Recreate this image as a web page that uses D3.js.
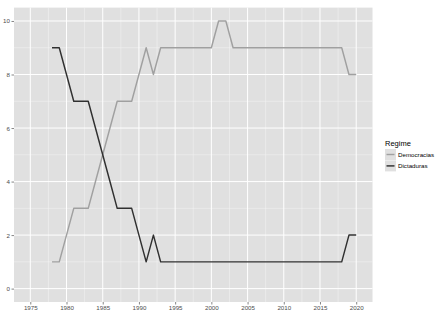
<!DOCTYPE html>
<html>
<head>
<meta charset="utf-8">
<script src="https://cdn.jsdelivr.net/npm/d3@7"></script>
<style>
  body { margin: 0; background: #fff; }
  svg { display: block; font-family: "Liberation Sans", Arial, sans-serif; }
</style>
</head>
<body>
<svg id="chart" width="441" height="318"></svg>
<script>
// data
var years = d3.range(1978, 2021);
var democracias = [1, 1, 2, 3, 3, 3, 4, 5, 6, 7, 7, 7, 8, 9, 8, 9, 9, 9, 9, 9, 9, 9, 9,
    10, 10, 9, 9, 9, 9, 9, 9, 9, 9, 9, 9, 9, 9, 9, 9, 9, 9, 8, 8];
var dictaduras = [9, 9, 8, 7, 7, 7, 6, 5, 4, 3, 3, 3, 2, 1, 2, 1, 1, 1, 1, 1, 1, 1, 1,
    1, 1, 1, 1, 1, 1, 1, 1, 1, 1, 1, 1, 1, 1, 1, 1, 1, 1, 2, 2];
var seriesNames = ['Democracias', 'Dictaduras'];
var xTicks = [1975, 1980, 1985, 1990, 1995, 2000, 2005, 2010, 2015, 2020];
var yTicks = [0, 2, 4, 6, 8, 10];

var series = [
    { name: seriesNames[0], values: democracias, color: '#a0a0a0' },
    { name: seriesNames[1], values: dictaduras, color: '#303030' }
];

var svg = d3.select('#chart');
var panel = { left: 14, top: 7.6, right: 372.5, bottom: 302 };
var panelFill = '#e0e0e0';

/* ggplot-like expansion: 5% on x, 0.5 units on y */
var x = d3.scaleLinear().domain([1972.75, 2022.25]).range([panel.left, panel.right]);
var y = d3.scaleLinear().domain([-0.5, 10.5]).range([panel.bottom, panel.top]);

svg.append('rect')
    .attr('x', panel.left).attr('y', panel.top)
    .attr('width', panel.right - panel.left)
    .attr('height', panel.bottom - panel.top)
    .attr('fill', panelFill);

var grid = svg.append('g');

// minor grid
grid.selectAll('.xminor')
    .data(xTicks.map(function(t) { return t + 2.5; }).filter(function(t) { return t < 2022; }))
    .enter().append('line')
    .attr('x1', function(d) { return x(d); }).attr('x2', function(d) { return x(d); })
    .attr('y1', panel.top).attr('y2', panel.bottom)
    .attr('stroke', '#f4f4f4').attr('stroke-width', 0.5);
grid.selectAll('.yminor')
    .data([1, 3, 5, 7, 9])
    .enter().append('line')
    .attr('y1', function(d) { return y(d); }).attr('y2', function(d) { return y(d); })
    .attr('x1', panel.left).attr('x2', panel.right)
    .attr('stroke', '#f4f4f4').attr('stroke-width', 0.5);

// major grid
grid.selectAll('.xmajor')
    .data(xTicks)
    .enter().append('line')
    .attr('x1', function(d) { return x(d); }).attr('x2', function(d) { return x(d); })
    .attr('y1', panel.top).attr('y2', panel.bottom)
    .attr('stroke', '#fff').attr('stroke-width', 1);
grid.selectAll('.ymajor')
    .data(yTicks)
    .enter().append('line')
    .attr('y1', function(d) { return y(d); }).attr('y2', function(d) { return y(d); })
    .attr('x1', panel.left).attr('x2', panel.right)
    .attr('stroke', '#fff').attr('stroke-width', 1);

// axes
var xAxis = svg.append('g')
    .attr('transform', 'translate(0,' + panel.bottom + ')')
    .call(d3.axisBottom(x).tickValues(xTicks).tickFormat(d3.format('d')).tickSize(2.5).tickPadding(1.5));
var yAxis = svg.append('g')
    .attr('transform', 'translate(' + panel.left + ',0)')
    .call(d3.axisLeft(y).tickValues(yTicks).tickSize(2.5).tickPadding(1.5));

[xAxis, yAxis].forEach(function(ax) {
    ax.select('.domain').remove();
    ax.selectAll('line').attr('stroke', '#333').attr('stroke-width', 0.6);
    ax.selectAll('text')
        .attr('fill', '#4d4d4d')
        .style('font-size', '6.2px')
        .style('font-family', '"Liberation Sans", Arial, sans-serif');
});

// lines
var line = d3.line()
    .x(function(d, i) { return x(years[i]); })
    .y(function(d) { return y(d); });

svg.append('g').selectAll('path')
    .data(series)
    .enter().append('path')
    .attr('d', function(d) { return line(d.values); })
    .attr('fill', 'none')
    .attr('stroke', function(d) { return d.color; })
    .attr('stroke-width', 1.45)
    .attr('stroke-linejoin', 'round');

// legend
var legend = svg.append('g').attr('transform', 'translate(385,0)');
legend.append('text')
    .attr('x', 0).attr('y', 146)
    .attr('fill', '#000')
    .style('font-size', '7.5px')
    .text('Regime');

var items = legend.selectAll('.item')
    .data(series)
    .enter().append('g')
    .attr('transform', function(d, i) { return 'translate(0,' + (149 + i * 11.4) + ')'; });
items.append('rect')
    .attr('width', 11).attr('height', 11)
    .attr('fill', panelFill);
items.append('line')
    .attr('x1', 1.5).attr('x2', 9.5)
    .attr('y1', 5.5).attr('y2', 5.5)
    .attr('stroke', function(d) { return d.color; })
    .attr('stroke-width', 1.45);
items.append('text')
    .attr('x', 13).attr('y', 7.6)
    .attr('fill', '#000')
    .style('font-size', '6.2px')
    .text(function(d) { return d.name; });
</script>
</body>
</html>
